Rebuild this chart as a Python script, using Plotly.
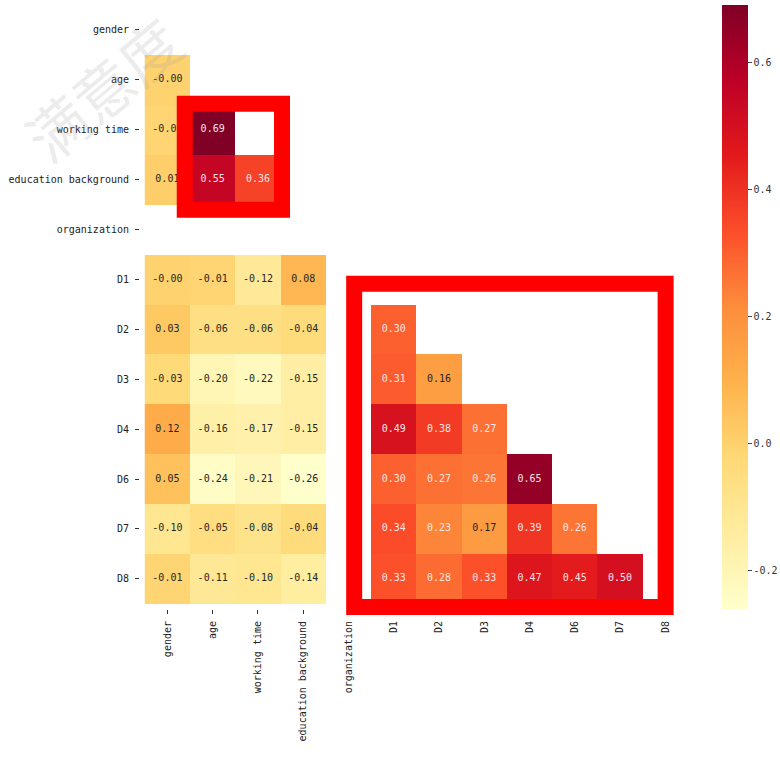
import plotly.graph_objects as go
import plotly.colors as pc

labels = ["gender", "age", "working time", "education background", "organization",
          "D1", "D2", "D3", "D4", "D6", "D7", "D8"]

# lower-triangle correlation values, row by row (None = masked / NaN)
row_gender = []
row_age = [-0.004]
row_working_time = [-0.01, 0.69]
row_education = [0.01, 0.55, 0.36]
row_organization = [None, None, None, None]
row_D1 = [-0.004, -0.01, -0.12, 0.08, None]
row_D2 = [0.03, -0.06, -0.06, -0.04, None, 0.30]
row_D3 = [-0.03, -0.20, -0.22, -0.15, None, 0.31, 0.16]
row_D4 = [0.12, -0.16, -0.17, -0.15, None, 0.49, 0.38, 0.27]
row_D6 = [0.05, -0.24, -0.21, -0.26, None, 0.30, 0.27, 0.26, 0.65]
row_D7 = [-0.10, -0.05, -0.08, -0.04, None, 0.34, 0.23, 0.17, 0.39, 0.26]
row_D8 = [-0.01, -0.11, -0.10, -0.14, None, 0.33, 0.28, 0.33, 0.47, 0.45, 0.50]

rows = [row_gender, row_age, row_working_time, row_education, row_organization,
        row_D1, row_D2, row_D3, row_D4, row_D6, row_D7, row_D8]

colorbar_ticks = [-0.2, 0.0, 0.2, 0.4, 0.6]

n = len(labels)
z = []
for r in rows:
    z.append(list(r) + [None] * (n - len(r)))

tx, ty, tt, tc = [], [], [], []
for i, r in enumerate(rows):
    for j, v in enumerate(r):
        if v is None:
            continue
        tx.append(labels[j])
        ty.append(labels[i])
        tt.append(f"{v:.2f}")
        tc.append("#f5e6e6" if v >= 0.2 else "#262626")

cs = pc.sequential.YlOrRd
colorscale = [[k / (len(cs) - 1), c] for k, c in enumerate(cs)]

mono = "DejaVu Sans Mono"

fig = go.Figure()
fig.add_trace(go.Heatmap(
    z=z, x=labels, y=labels, colorscale=colorscale,
    zmin=-0.26, zmax=0.69, hoverongaps=False,
    colorbar=dict(
        thickness=26, len=1.0, lenmode="fraction", y=0.5, yanchor="middle",
        x=(722 - 140) / 548, xanchor="left", xpad=0, ypad=0,
        outlinewidth=0, ticks="outside", ticklen=4,
        tickvals=colorbar_ticks, ticktext=[f"{t:.1f}" for t in colorbar_ticks],
        tickfont=dict(family=mono, size=10, color="#333"),
    ),
))
fig.add_trace(go.Scatter(
    x=tx, y=ty, text=tt, mode="text",
    textfont=dict(family=mono, size=10, color=tc),
    hoverinfo="skip", showlegend=False,
))


def px(idx):
    return (idx + 0.5) / n


def py(idx):
    return 1 - (idx + 0.5) / n


red_boxes = [
    (0.48, 2.61, 1.46, 3.57),
    (4.19, 11.01, 5.04, 11.46),
]
for x0, x1, y0, y1 in red_boxes:
    fig.add_shape(type="rect", xref="paper", yref="paper",
                  x0=px(x0), x1=px(x1), y0=py(y1), y1=py(y0),
                  line=dict(color="#ff0000", width=16), layer="above")

fig.add_annotation(
    text="满意度", xref="paper", yref="paper",
    x=(102 - 140) / 548, y=(609 - 88) / 604, xanchor="center", yanchor="middle",
    showarrow=False, textangle=-40,
    font=dict(family="Noto Sans CJK SC", size=60, color="rgba(160,160,160,0.2)"),
)

fig.update_xaxes(type="category", tickangle=-90, ticks="outside", ticklen=4,
                 tickcolor="#333", showgrid=False, zeroline=False, automargin=False,
                 ticklabelstandoff=3,
                 tickfont=dict(family=mono, size=10, color="#222"))
fig.update_yaxes(type="category", autorange="reversed", ticks="outside", ticklen=4,
                 tickcolor="#333", showgrid=False, zeroline=False, automargin=False,
                 ticklabelstandoff=4,
                 tickfont=dict(family=mono, size=10, color="#222"))

fig.update_layout(
    width=780, height=758,
    margin=dict(l=140, r=92, t=5, b=149, autoexpand=False),
    plot_bgcolor="white", paper_bgcolor="white",
    showlegend=False,
)

fig.write_html("out.html", config={"displayModeBar": False},
               post_script="document.body.style.margin='0';")
